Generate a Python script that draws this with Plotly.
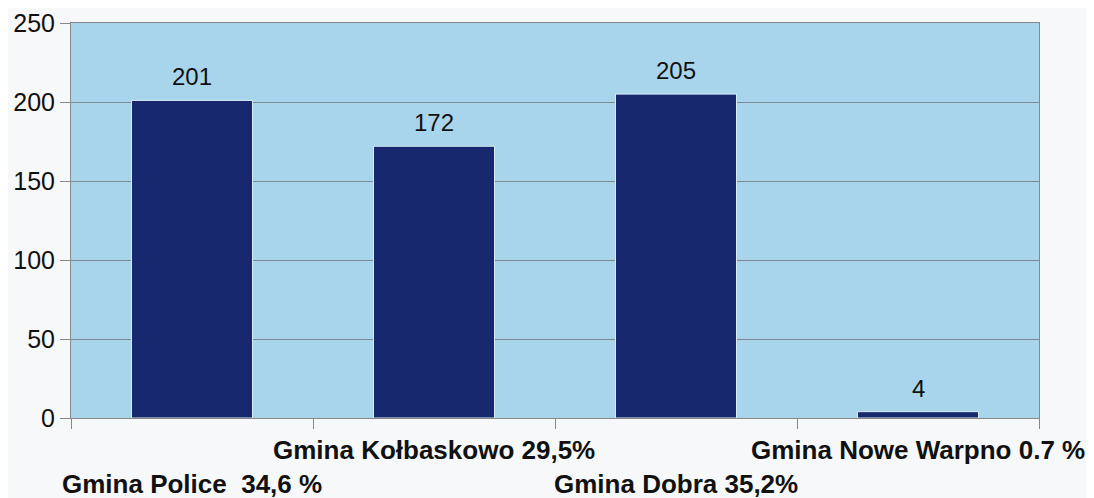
import plotly.graph_objects as go

categories = ["Gmina Police", "Gmina Kołbaskowo", "Gmina Dobra", "Gmina Nowe Warpno"]
values = [201, 172, 205, 4]
cat_labels = ["Gmina Police\u00a0\u00a034,6 %", "Gmina Kołbaskowo 29,5%",
              "Gmina Dobra 35,2%", "Gmina Nowe Warpno 0.7 %"]
label_rows = [1, 0, 1, 0]  # 0 = upper row, 1 = lower row

FONT = "Liberation Sans, Arial"

fig = go.Figure()
fig.add_trace(go.Bar(
    x=categories, y=values,
    marker=dict(color="#17286e", line=dict(color="#d8ecf6", width=1)),
    width=0.5,
))

for cat, v in zip(categories, values):
    fig.add_annotation(
        x=cat, xref="x", y=v, yref="y", yanchor="bottom", yshift=8,
        text=str(v), showarrow=False,
        font=dict(family=FONT, size=24, color="#111"),
    )

for cat, lab, row in zip(categories, cat_labels, label_rows):
    fig.add_annotation(
        x=cat, xref="x", y=0, yref="paper", yanchor="top",
        yshift=-15 - row * 34, text=lab, showarrow=False,
        font=dict(family=FONT, size=26, color="#111", weight="bold"),
    )

fig.update_layout(
    width=1086, height=490,
    margin=dict(l=63, r=55, t=15, b=80),
    paper_bgcolor="#f6f8fa",
    plot_bgcolor="#a9d5ec",
    showlegend=False,
)
fig.update_xaxes(
    type="category", showticklabels=False, range=[-0.5, 3.5], automargin=False,
    tickson="boundaries", ticks="outside", ticklen=10, tickcolor="#888",
    showline=True, linecolor="#888", linewidth=1, mirror=True,
    showgrid=False,
)
fig.update_yaxes(
    range=[0, 250], dtick=50, ticks="outside", ticklen=10, tickcolor="#888",
    automargin=False,
    tickfont=dict(family=FONT, size=25, color="#111"),
    showline=True, linecolor="#888", linewidth=1, mirror=True,
    showgrid=True, gridcolor="#7d8a92", gridwidth=1,
    zeroline=False,
)

fig.write_html("out.html")
